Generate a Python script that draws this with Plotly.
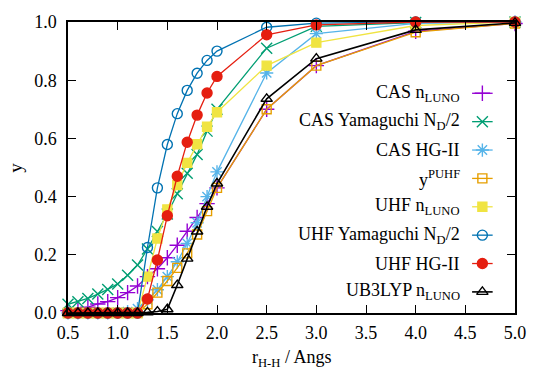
import plotly.graph_objects as go

# H-H distance (Angstrom)
r_hh = [0.5, 0.6, 0.7, 0.8, 0.9, 1.0, 1.1, 1.2, 1.3, 1.4, 1.5, 1.6, 1.7, 1.8, 1.9, 2.0, 2.5, 3.0, 4.0, 5.0]

# Diradical character indices
cas_nluno = [0.008, 0.013, 0.020, 0.031, 0.039, 0.053, 0.070, 0.093, 0.125, 0.152, 0.190, 0.233, 0.281, 0.328, 0.376, 0.430, 0.700, 0.850, 0.968, 0.995]
cas_yamaguchi = [0.030, 0.039, 0.050, 0.065, 0.081, 0.100, 0.130, 0.165, 0.220, 0.280, 0.340, 0.410, 0.480, 0.545, 0.625, 0.700, 0.910, 0.985, 0.998, 1.000]
cas_hg2 = [0.000, 0.000, 0.000, 0.000, 0.000, 0.002, 0.005, 0.015, 0.045, 0.080, 0.125, 0.176, 0.239, 0.310, 0.400, 0.485, 0.825, 0.960, 0.995, 1.000]
y_puhf = [0.0, 0.0, 0.0, 0.0, 0.0, 0.0, 0.0, 0.0, 0.030, 0.070, 0.110, 0.155, 0.205, 0.270, 0.350, 0.430, 0.700, 0.850, 0.965, 0.995]
uhf_nluno = [0.0, 0.0, 0.0, 0.0, 0.0, 0.0, 0.0, 0.0, 0.125, 0.256, 0.356, 0.440, 0.516, 0.580, 0.640, 0.690, 0.850, 0.929, 0.988, 1.000]
uhf_yamaguchi = [0.0, 0.0, 0.0, 0.0, 0.0, 0.0, 0.0, 0.0, 0.225, 0.430, 0.579, 0.685, 0.765, 0.824, 0.868, 0.900, 0.982, 0.996, 1.000, 1.000]
uhf_hg2 = [0.0, 0.0, 0.0, 0.0, 0.0, 0.0, 0.0, 0.0, 0.048, 0.182, 0.334, 0.470, 0.587, 0.680, 0.756, 0.813, 0.956, 0.990, 1.000, 1.000]
ub3lyp_nluno = [0.0, 0.0, 0.0, 0.0, 0.0, 0.0, 0.0, 0.0, 0.002, 0.005, 0.013, 0.096, 0.187, 0.280, 0.365, 0.445, 0.736, 0.874, 0.973, 0.997]

x_ticks = [0.5, 1.0, 1.5, 2.0, 2.5, 3.0, 3.5, 4.0, 4.5, 5.0]
y_ticks = [0.0, 0.2, 0.4, 0.6, 0.8, 1.0]

labels = [
    "CAS n<sub>LUNO</sub>",
    "CAS Yamaguchi N<sub>D</sub>/2",
    "CAS HG-II",
    "y<sup>PUHF</sup>",
    "UHF n<sub>LUNO</sub>",
    "UHF Yamaguchi N<sub>D</sub>/2",
    "UHF HG-II",
    "UB3LYP n<sub>LUNO</sub>",
]
series = [cas_nluno, cas_yamaguchi, cas_hg2, y_puhf, uhf_nluno, uhf_yamaguchi, uhf_hg2, ub3lyp_nluno]
colors = ["#9400D3", "#009E73", "#56B4E9", "#E69F00", "#F0E442", "#0072B2", "#E51E10", "#000000"]
symbols = ["cross-thin", "x-thin", "asterisk-open", "square-open", "square", "circle-open", "circle", "triangle-up-open"]
sizes = [11, 11, 11, 9, 9, 10, 10, 10]
widths = [1.3, 1.3, 1.3, 1.3, 1.3, 1.3, 1.3, 1.6]

FONT = "Liberation Serif"
X_RANGE = [0.5, 5.0]
Y_RANGE = [0.0, 1.0]


def ax_x(f):
    """Fraction of the plot width -> x data coordinate."""
    return X_RANGE[0] + f * (X_RANGE[1] - X_RANGE[0])


def ax_y(f):
    """Fraction of the plot height -> y data coordinate."""
    return Y_RANGE[0] + f * (Y_RANGE[1] - Y_RANGE[0])


fig = go.Figure()

for ys, c, s, sz, w in zip(series, colors, symbols, sizes, widths):
    fig.add_trace(go.Scatter(
        x=r_hh, y=ys, mode="lines+markers",
        line=dict(color=c, width=w),
        marker=dict(symbol=s, size=sz, color=c, line=dict(color=c, width=1.4)),
        cliponaxis=False, showlegend=False,
    ))

# Key: right-aligned labels with a line+marker sample to their right
key_top, key_step = 0.755, 0.0975
key_x0, key_x1 = 0.904, 0.950
for i, (lab, c, s, sz, w) in enumerate(zip(labels, colors, symbols, sizes, widths)):
    ky = ax_y(key_top - i * key_step)
    fig.add_trace(go.Scatter(
        x=[ax_x(key_x0), ax_x(key_x1)], y=[ky, ky], mode="lines",
        line=dict(color=c, width=w), showlegend=False, hoverinfo="skip",
    ))
    fig.add_trace(go.Scatter(
        x=[ax_x((key_x0 + key_x1) / 2)], y=[ky], mode="markers",
        marker=dict(symbol=s, size=sz, color=c, line=dict(color=c, width=1.4)),
        showlegend=False, hoverinfo="skip",
    ))
    fig.add_annotation(
        x=ax_x(0.882), y=ky, xref="x", yref="y", text=lab, showarrow=False,
        xanchor="right", yanchor="middle", font=dict(family=FONT, size=18, color="black"),
    )

axis_common = dict(
    showline=True, linecolor="black", linewidth=1.5, mirror="allticks",
    ticks="inside", ticklen=8, tickwidth=1.2, tickcolor="black",
    showgrid=False, zeroline=False,
    tickfont=dict(family=FONT, size=18, color="black"),
)

fig.update_layout(
    width=538, height=370,
    margin=dict(l=67.5, r=12, t=21.5, b=57),
    paper_bgcolor="white", plot_bgcolor="white",
    xaxis=dict(range=X_RANGE, tickvals=x_ticks, ticktext=[f"{v:.1f}" for v in x_ticks],
               ticklabelstandoff=3, **axis_common),
    yaxis=dict(range=Y_RANGE, tickvals=y_ticks, ticktext=[f"{v:.1f}" for v in y_ticks],
               ticklabelstandoff=6, **axis_common),
    showlegend=False,
)

fig.add_annotation(
    x=-0.118, y=0.5, xref="paper", yref="paper", text="y", showarrow=False, textangle=-90,
    xanchor="center", yanchor="middle", font=dict(family=FONT, size=19, color="black"),
)
fig.add_annotation(
    x=0.5, y=-0.155, xref="paper", yref="paper", text="r<sub>H-H</sub> / Angs", showarrow=False,
    xanchor="center", yanchor="middle", font=dict(family=FONT, size=18, color="black"),
)

fig.write_html("out.html")
